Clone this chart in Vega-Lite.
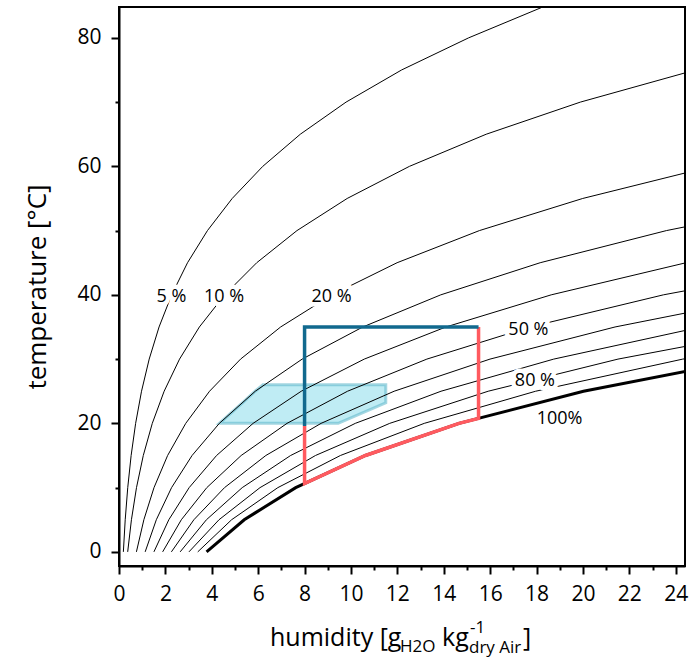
{
  "$schema": "https://vega.github.io/schema/vega-lite/v6.json",
  "autosize": "none",
  "width": 566,
  "height": 559,
  "padding": {"left": 119, "top": 7, "right": 14, "bottom": 102},
  "background": "white",
  "view": {"stroke": "black", "strokeWidth": 2},
  "config": {
    "font": "Open Sans",
    "axis": {
      "domainColor": "black", "domainWidth": 2, "tickColor": "black", "tickWidth": 2,
      "labelFont": "Open Sans", "labelFontSize": 21, "labelColor": "black",
      "titleFont": "Open Sans", "titleFontSize": 26, "titleFontWeight": "normal", "titleColor": "black",
      "grid": false
    }
  },
  "datasets": {
    "curves": [
      {"rh": 5, "T": 0, "x": 0.188}, {"rh": 5, "T": 5, "x": 0.268}, {"rh": 5, "T": 10, "x": 0.377}, {"rh": 5, "T": 15, "x": 0.523}, {"rh": 5, "T": 20, "x": 0.717}, {"rh": 5, "T": 25, "x": 0.971}, {"rh": 5, "T": 30, "x": 1.302}, {"rh": 5, "T": 35, "x": 1.727}, {"rh": 5, "T": 40, "x": 2.27}, {"rh": 5, "T": 45, "x": 2.954}, {"rh": 5, "T": 50, "x": 3.813}, {"rh": 5, "T": 55, "x": 4.88}, {"rh": 5, "T": 60, "x": 6.198}, {"rh": 5, "T": 65, "x": 7.816}, {"rh": 5, "T": 70, "x": 9.789}, {"rh": 5, "T": 75, "x": 12.183}, {"rh": 5, "T": 80, "x": 15.074}, {"rh": 5, "T": 85, "x": 18.4},
      {"rh": 10, "T": 0, "x": 0.375}, {"rh": 10, "T": 5, "x": 0.536}, {"rh": 10, "T": 10, "x": 0.754}, {"rh": 10, "T": 15, "x": 1.047}, {"rh": 10, "T": 20, "x": 1.435}, {"rh": 10, "T": 25, "x": 1.946}, {"rh": 10, "T": 30, "x": 2.61}, {"rh": 10, "T": 35, "x": 3.465}, {"rh": 10, "T": 40, "x": 4.556}, {"rh": 10, "T": 45, "x": 5.937}, {"rh": 10, "T": 50, "x": 7.672}, {"rh": 10, "T": 55, "x": 9.836}, {"rh": 10, "T": 60, "x": 12.52}, {"rh": 10, "T": 65, "x": 15.83}, {"rh": 10, "T": 70, "x": 19.89}, {"rh": 10, "T": 75, "x": 24.853},
      {"rh": 20, "T": 0, "x": 0.751}, {"rh": 20, "T": 5, "x": 1.072}, {"rh": 20, "T": 10, "x": 1.509}, {"rh": 20, "T": 15, "x": 2.096}, {"rh": 20, "T": 20, "x": 2.877}, {"rh": 20, "T": 25, "x": 3.904}, {"rh": 20, "T": 30, "x": 5.241}, {"rh": 20, "T": 35, "x": 6.968}, {"rh": 20, "T": 40, "x": 9.179}, {"rh": 20, "T": 45, "x": 11.988}, {"rh": 20, "T": 50, "x": 15.535}, {"rh": 20, "T": 55, "x": 19.989}, {"rh": 20, "T": 60, "x": 25.554},
      {"rh": 30, "T": 0, "x": 1.128}, {"rh": 30, "T": 5, "x": 1.609}, {"rh": 30, "T": 10, "x": 2.266}, {"rh": 30, "T": 15, "x": 3.15}, {"rh": 30, "T": 20, "x": 4.326}, {"rh": 30, "T": 25, "x": 5.874}, {"rh": 30, "T": 30, "x": 7.896}, {"rh": 30, "T": 35, "x": 10.511}, {"rh": 30, "T": 40, "x": 13.871}, {"rh": 30, "T": 45, "x": 18.157}, {"rh": 30, "T": 50, "x": 23.597}, {"rh": 30, "T": 55, "x": 30.473},
      {"rh": 40, "T": 0, "x": 1.505}, {"rh": 40, "T": 5, "x": 2.148}, {"rh": 40, "T": 10, "x": 3.025}, {"rh": 40, "T": 15, "x": 4.206}, {"rh": 40, "T": 20, "x": 5.781}, {"rh": 40, "T": 25, "x": 7.857}, {"rh": 40, "T": 30, "x": 10.573}, {"rh": 40, "T": 35, "x": 14.094}, {"rh": 40, "T": 40, "x": 18.632}, {"rh": 40, "T": 45, "x": 24.447}, {"rh": 40, "T": 50, "x": 31.866},
      {"rh": 50, "T": 0, "x": 1.882}, {"rh": 50, "T": 5, "x": 2.687}, {"rh": 50, "T": 10, "x": 3.786}, {"rh": 50, "T": 15, "x": 5.267}, {"rh": 50, "T": 20, "x": 7.243}, {"rh": 50, "T": 25, "x": 9.853}, {"rh": 50, "T": 30, "x": 13.272}, {"rh": 50, "T": 35, "x": 17.718}, {"rh": 50, "T": 40, "x": 23.467}, {"rh": 50, "T": 45, "x": 30.862},
      {"rh": 60, "T": 0, "x": 2.259}, {"rh": 60, "T": 5, "x": 3.228}, {"rh": 60, "T": 10, "x": 4.549}, {"rh": 60, "T": 15, "x": 6.331}, {"rh": 60, "T": 20, "x": 8.712}, {"rh": 60, "T": 25, "x": 11.861}, {"rh": 60, "T": 30, "x": 15.994}, {"rh": 60, "T": 35, "x": 21.384}, {"rh": 60, "T": 40, "x": 28.374},
      {"rh": 70, "T": 0, "x": 2.637}, {"rh": 70, "T": 5, "x": 3.769}, {"rh": 70, "T": 10, "x": 5.313}, {"rh": 70, "T": 15, "x": 7.399}, {"rh": 70, "T": 20, "x": 10.187}, {"rh": 70, "T": 25, "x": 13.882}, {"rh": 70, "T": 30, "x": 18.741}, {"rh": 70, "T": 35, "x": 25.092},
      {"rh": 80, "T": 0, "x": 3.016}, {"rh": 80, "T": 5, "x": 4.311}, {"rh": 80, "T": 10, "x": 6.08}, {"rh": 80, "T": 15, "x": 8.47}, {"rh": 80, "T": 20, "x": 11.67}, {"rh": 80, "T": 25, "x": 15.915}, {"rh": 80, "T": 30, "x": 21.511}, {"rh": 80, "T": 35, "x": 28.842},
      {"rh": 90, "T": 0, "x": 3.395}, {"rh": 90, "T": 5, "x": 4.854}, {"rh": 90, "T": 10, "x": 6.848}, {"rh": 90, "T": 15, "x": 9.545}, {"rh": 90, "T": 20, "x": 13.16}, {"rh": 90, "T": 25, "x": 17.962}, {"rh": 90, "T": 30, "x": 24.304}, {"rh": 90, "T": 35, "x": 32.636},
      {"rh": 100, "T": 0, "x": 3.775}, {"rh": 100, "T": 5, "x": 5.398}, {"rh": 100, "T": 10, "x": 7.618}, {"rh": 100, "T": 15, "x": 10.624}, {"rh": 100, "T": 20, "x": 14.657}, {"rh": 100, "T": 25, "x": 20.023}, {"rh": 100, "T": 30, "x": 27.122}
    ],
    "zone": [
      {"T": 20, "lo": 4.33, "hi": 9.45},
      {"T": 23.2, "lo": 5.32, "hi": 11.5},
      {"T": 25, "lo": 5.87, "hi": 11.5},
      {"T": 26, "lo": 6.2, "hi": 11.5}
    ],
    "bluePath": [
      {"i": 1, "x": 8, "T": 19.6},
      {"i": 2, "x": 8, "T": 35},
      {"i": 3, "x": 15.5, "T": 35}
    ],
    "redPath": [
      {"i": 1, "x": 8, "T": 19.6},
      {"i": 2, "x": 8, "T": 10.64},
      {"i": 3, "x": 10.624, "T": 15},
      {"i": 4, "x": 14.657, "T": 20},
      {"i": 5, "x": 15.5, "T": 20.78},
      {"i": 6, "x": 15.5, "T": 35}
    ],
    "labels": [
      {"label": "5 %", "x": 2.26, "T": 39.7},
      {"label": "10 %", "x": 4.53, "T": 39.7},
      {"label": "20 %", "x": 9.16, "T": 39.7},
      {"label": "50 %", "x": 17.65, "T": 34.6},
      {"label": "80 %", "x": 17.93, "T": 26.6},
      {"label": "100%", "x": 18.99, "T": 20.7}
    ]
  },
  "encoding": {
    "x": {
      "type": "quantitative",
      "scale": {"domain": [0, 24.4], "nice": false, "zero": false},
      "axis": {
        "title": null,
        "values": [0,1,2,3,4,5,6,7,8,9,10,11,12,13,14,15,16,17,18,19,20,21,22,23,24],
        "labelExpr": "datum.value % 2 === 0 ? datum.label : ''",
        "tickSize": {"condition": {"test": "datum.value % 2 === 0", "value": 8}, "value": 4},
        "labelPadding": 9,
        "labelFlush": false,
        "labelOverlap": false
      }
    },
    "y": {
      "type": "quantitative",
      "scale": {"domain": [-2.2, 84.8], "nice": false, "zero": false},
      "axis": {
        "title": "temperature [°C]",
        "values": [0,10,20,30,40,50,60,70,80],
        "labelExpr": "datum.value % 20 === 0 ? datum.label : ''",
        "tickSize": {"condition": {"test": "datum.value % 20 === 0", "value": 8}, "value": 4},
        "labelPadding": 10,
        "titlePadding": 26,
        "labelFlush": false,
        "labelOverlap": false
      }
    }
  },
  "layer": [
    {
      "data": {"name": "zone"},
      "mark": {"type": "area", "orient": "horizontal", "fill": "#7fd9ea", "fillOpacity": 0.5, "stroke": "#5ab4c8", "strokeOpacity": 0.55, "strokeWidth": 3, "clip": true},
      "encoding": {
        "y": {"field": "T", "type": "quantitative"},
        "x": {"field": "lo", "type": "quantitative"},
        "x2": {"field": "hi"}
      }
    },
    {
      "data": {"name": "curves"},
      "transform": [{"filter": "datum.rh < 100"}],
      "mark": {"type": "line", "color": "black", "strokeWidth": 1, "clip": true},
      "encoding": {
        "x": {"field": "x", "type": "quantitative"},
        "y": {"field": "T", "type": "quantitative"},
        "detail": {"field": "rh", "type": "nominal"},
        "order": {"field": "T", "type": "quantitative"}
      }
    },
    {
      "data": {"name": "curves"},
      "transform": [{"filter": "datum.rh === 100"}],
      "mark": {"type": "line", "color": "black", "strokeWidth": 3, "clip": true},
      "encoding": {
        "x": {"field": "x", "type": "quantitative"},
        "y": {"field": "T", "type": "quantitative"},
        "order": {"field": "T", "type": "quantitative"}
      }
    },
    {
      "data": {"name": "labels"},
      "mark": {"type": "text", "font": "Open Sans", "fontSize": 18, "fill": "white", "stroke": "white", "strokeWidth": 9, "strokeJoin": "round", "align": "center", "baseline": "middle"},
      "encoding": {
        "x": {"field": "x", "type": "quantitative"},
        "y": {"field": "T", "type": "quantitative"},
        "text": {"field": "label"}
      }
    },
    {
      "data": {"name": "labels"},
      "mark": {"type": "text", "font": "Open Sans", "fontSize": 18, "color": "black", "align": "center", "baseline": "middle"},
      "encoding": {
        "x": {"field": "x", "type": "quantitative"},
        "y": {"field": "T", "type": "quantitative"},
        "text": {"field": "label"}
      }
    },
    {
      "data": {"name": "redPath"},
      "mark": {"type": "line", "color": "#ff5a5f", "strokeWidth": 3.5, "strokeJoin": "miter", "clip": true},
      "encoding": {
        "x": {"field": "x", "type": "quantitative"},
        "y": {"field": "T", "type": "quantitative"},
        "order": {"field": "i", "type": "quantitative"}
      }
    },
    {
      "data": {"name": "bluePath"},
      "mark": {"type": "line", "color": "#11698e", "strokeWidth": 3.5, "strokeJoin": "miter", "clip": true},
      "encoding": {
        "x": {"field": "x", "type": "quantitative"},
        "y": {"field": "T", "type": "quantitative"},
        "order": {"field": "i", "type": "quantitative"}
      }
    },
    {
      "data": {"values": [{}]},
      "layer": [
        {"mark": {"type": "text", "text": "humidity [g", "font": "Open Sans", "fontSize": 25, "color": "black", "align": "left", "baseline": "alphabetic", "dx": 151, "dy": 80}},
        {"mark": {"type": "text", "text": "H2O", "font": "Open Sans", "fontSize": 17, "color": "black", "align": "left", "baseline": "alphabetic", "dx": 281, "dy": 86}},
        {"mark": {"type": "text", "text": "kg", "font": "Open Sans", "fontSize": 25, "color": "black", "align": "left", "baseline": "alphabetic", "dx": 323, "dy": 80}},
        {"mark": {"type": "text", "text": "-1", "font": "Open Sans", "fontSize": 17, "color": "black", "align": "left", "baseline": "alphabetic", "dx": 351, "dy": 67}},
        {"mark": {"type": "text", "text": "dry Air", "font": "Open Sans", "fontSize": 17, "color": "black", "align": "left", "baseline": "alphabetic", "dx": 350, "dy": 87}},
        {"mark": {"type": "text", "text": "]", "font": "Open Sans", "fontSize": 25, "color": "black", "align": "left", "baseline": "alphabetic", "dx": 404, "dy": 80}}
      ],
      "encoding": {
        "x": {"datum": 0, "type": "quantitative"},
        "y": {"datum": -2.2, "type": "quantitative"}
      }
    }
  ]
}
